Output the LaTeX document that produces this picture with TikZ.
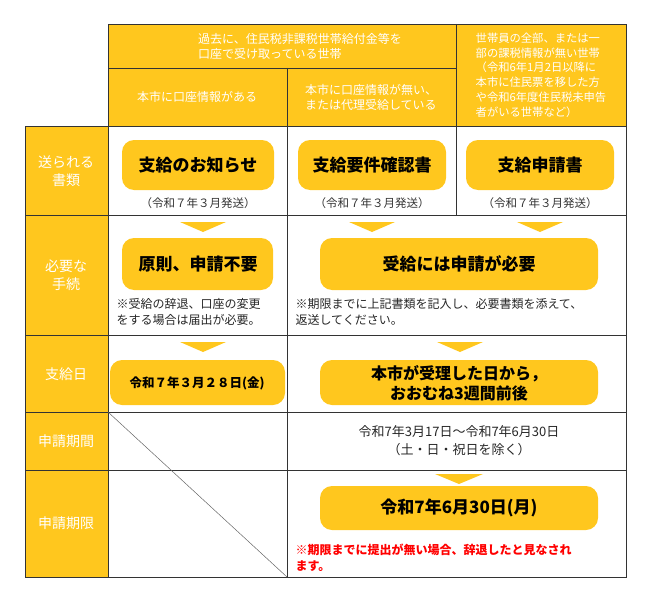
\documentclass[tikz,border=0pt]{standalone}
\usepackage{fontspec}
\setmainfont{Noto Sans CJK JP}
\begin{document}
\begin{tikzpicture}[x=1pt,y=-1pt,
  line/.style={draw=black!80,line width=0.8pt},
  pill/.style={fill=yel,rounded corners=12pt,draw=none},
  wt/.style={text=white,font=\fontsize{12}{15}\selectfont,align=center},
  lt/.style={text=white,font=\fontsize{14}{18}\selectfont,align=center},
  bt/.style={text=black,font=\fontsize{17}{20}\selectfont\bfseries,align=center},
  nt/.style={text=black!85,font=\fontsize{12}{16}\selectfont,align=left,anchor=north west},
  tri/.style={fill=yel,draw=none}]
\definecolor{yel}{HTML}{FFC71E}
\useasboundingbox (0,0) rectangle (650,599);
% header
\fill[yel] (108,24) rectangle (626,126);
\fill[yel] (25,126) rectangle (108,577);
\draw[line] (108,24) rectangle (626,126);
\draw[line] (108,68) -- (456,68);
\draw[line] (287,68) -- (287,126);
\draw[line] (456,24) -- (456,126);
\node[wt,align=left] (h1) at (300,46) {過去に、住民税非課税世帯給付金等を\\口座で受け取っている世帯};
\node[wt] (h2) at (197,97) {本市に口座情報がある};
\node[wt,align=left] (h3) at (371,97) {本市に口座情報が無い、\\または代理受給している};
\node[wt,font=\fontsize{11.3}{14.8}\selectfont,align=left] (h4) at (541,75) {世帯員の全部、または一\\部の課税情報が無い世帯\\（令和6年1月2日以降に\\本市に住民票を移した方\\や令和6年度住民税未申告\\者がいる世帯など）};
% grid
\draw[line] (25,126) rectangle (626,577);
\foreach \y in {215,335,412,470} \draw[line] (25,\y) -- (626,\y);
\draw[line] (108,126) -- (108,577);
\draw[line] (287,126) -- (287,577);
\draw[line] (456,126) -- (456,215);
\draw[line,black!60,line width=0.5pt] (108,412) -- (287,577);
% left labels
\node[lt] (l1) at (66,171) {送られる\\書類};
\node[lt] (l2) at (66,275) {必要な\\手続};
\node[lt] (l3) at (66,374) {支給日};
\node[lt] (l4) at (66,441) {申請期間};
\node[lt] (l5) at (66,523) {申請期限};
% row1
\fill[pill] (122,140) rectangle (274,190);
\node[bt] (p1) at (198,165) {支給のお知らせ};
\fill[pill] (298,140) rectangle (446,190);
\node[bt] (p2) at (372,165) {支給要件確認書};
\fill[pill] (466,140) rectangle (614,190);
\node[bt] (p3) at (540,165) {支給申請書};
\foreach \x/\n in {198/a,372/b,540/c} \node[text=black!80,font=\fontsize{11.5}{13}\selectfont] (d\n) at (\x,203) {（令和７年３月発送）};
% row2
\fill[tri] (180,222) -- (226,222) -- (203,232) -- cycle;
\fill[tri] (349,222) -- (395,222) -- (372,232) -- cycle;
\fill[tri] (517,222) -- (563,222) -- (540,232) -- cycle;
\fill[pill] (122,238) rectangle (273,290);
\node[bt] (p4) at (198,264) {原則、申請不要};
\fill[pill] (320,238) rectangle (598,290);
\node[bt] (p5) at (459,264) {受給には申請が必要};
\node[nt] (n1) at (113,295) {※受給の辞退、口座の変更\\をする場合は届出が必要。};
\node[nt] (n2) at (292,295) {※期限までに上記書類を記入し、必要書類を添えて、\\返送してください。};
% row3
\fill[tri] (180,342) -- (226,342) -- (203,352) -- cycle;
\fill[tri] (437,342) -- (483,342) -- (460,352) -- cycle;
\fill[pill] (110,360) rectangle (285,405);
\node[bt,font=\fontsize{12.5}{15}\selectfont\bfseries] (p6) at (197,383) {令和７年３月２８日(金)};
\fill[pill] (320,360) rectangle (598,405);
\node[bt,font=\fontsize{16}{20}\selectfont\bfseries] (p7) at (459,383) {本市が受理した日から，\\おおむね3週間前後};
% row4
\node[text=black!85,font=\fontsize{13}{18}\selectfont,align=center] (t4) at (459,441) {令和7年3月17日～令和7年6月30日\\（土・日・祝日を除く）};
% row5
\fill[tri] (435,474) -- (483,474) -- (459,484) -- cycle;
\fill[pill] (320,486) rectangle (598,530);
\node[bt] (p8) at (459,508) {令和7年6月30日(月)};
\node[nt,text=red,font=\fontsize{12}{16}\selectfont\bfseries] (n3) at (292,540) {※期限までに提出が無い場合、辞退したと見なされ\\ます。};
\end{tikzpicture}
\end{document}
